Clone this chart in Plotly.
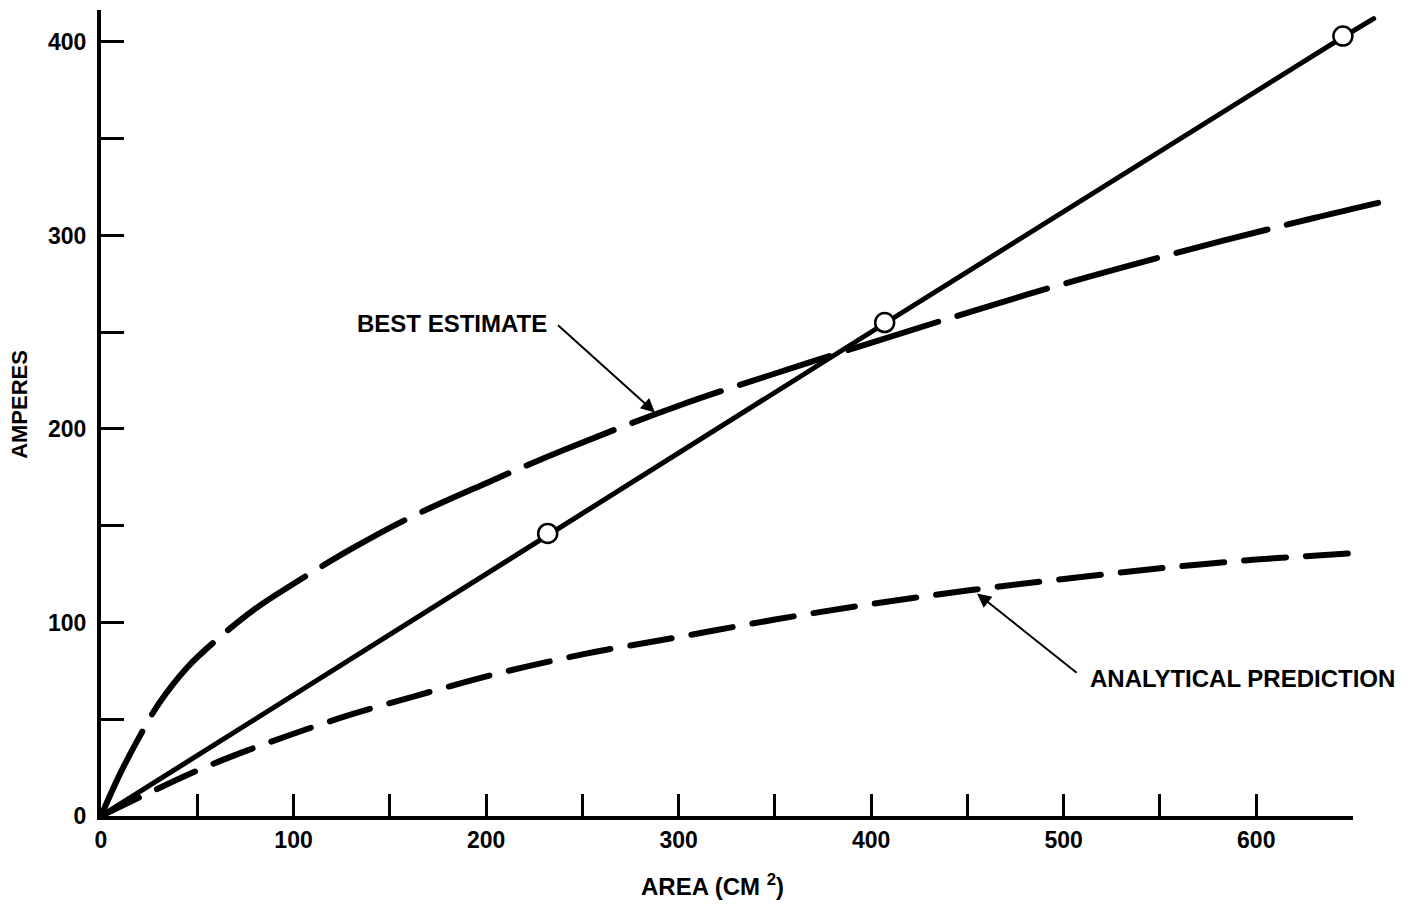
import plotly.graph_objects as go

# ---- data ----
measured_x = [232, 407, 645]
measured_y = [146, 255, 403]

fit_x = [0, 232, 407, 645, 661]
fit_y = [0, 145.5, 254.5, 402.5, 412]

best_x = [0, 10, 20, 30, 45, 60, 80, 100, 130, 160, 200, 240, 300, 370, 440, 500, 570, 630, 664]
best_y = [0, 22, 41, 58, 77, 91, 107, 120, 138, 154, 172, 189, 212, 235, 257, 275, 294, 309, 317]

anal_x = [0, 25, 50, 75, 100, 130, 165, 205, 250, 300, 350, 400, 450, 500, 550, 600, 651]
anal_y = [0, 12, 23.5, 33.5, 42.5, 52.5, 62.5, 73.4, 83.5, 92.5, 101.5, 109.5, 116.5, 122.5, 128, 132.5, 135.8]

x_ticks = list(range(0, 651, 50))
x_tick_text = [str(v) if v % 100 == 0 else "" for v in x_ticks]
y_ticks = list(range(0, 401, 50))
y_tick_text = [str(v) if v % 100 == 0 else "" for v in y_ticks]

X_MAX = 689.2
Y_MAX = 416.5
X_AXIS_END = 650

FONT = "Liberation Sans"
FS = 24

fig = go.Figure()

fig.add_trace(go.Scatter(x=best_x, y=best_y, mode="lines",
                         line=dict(color="black", width=6, dash="94px,20px", shape="spline", smoothing=1),
                         showlegend=False, hoverinfo="skip"))
fig.add_trace(go.Scatter(x=anal_x, y=anal_y, mode="lines",
                         line=dict(color="black", width=6, dash="42px,20px", shape="spline", smoothing=1),
                         showlegend=False, hoverinfo="skip"))
fig.add_trace(go.Scatter(x=fit_x, y=fit_y, mode="lines",
                         line=dict(color="black", width=5),
                         showlegend=False, hoverinfo="skip"))
fig.add_trace(go.Scatter(x=measured_x, y=measured_y, mode="markers",
                         marker=dict(symbol="circle", size=19, color="white",
                                     line=dict(color="black", width=2.5)),
                         showlegend=False, hoverinfo="skip"))
# empty trace to host the visible x axis (ends at 650)
fig.add_trace(go.Scatter(x=[], y=[], xaxis="x2", yaxis="y", showlegend=False, hoverinfo="skip"))

tick_font = dict(family=FONT, size=23, color="black", weight="bold")

fig.update_layout(
    width=1428, height=905,
    margin=dict(l=101, r=0, t=10, b=89),
    paper_bgcolor="white",
    plot_bgcolor="rgba(0,0,0,0)",
    font=dict(family=FONT, size=FS, color="black"),
    xaxis=dict(range=[0, X_MAX], visible=False, showgrid=False, zeroline=False),
    xaxis2=dict(range=[0, X_AXIS_END], domain=[0, X_AXIS_END / X_MAX], anchor="y",
                showline=True, linecolor="black", linewidth=4,
                ticks="inside", ticklen=22, tickwidth=3, tickcolor="black",
                tickmode="array", tickvals=x_ticks, ticktext=x_tick_text,
                tickfont=tick_font, showgrid=False, zeroline=False),
    yaxis=dict(range=[0, Y_MAX], showline=True, linecolor="black", linewidth=4,
               ticks="inside", ticklen=23, tickwidth=3, tickcolor="black",
               tickmode="array", tickvals=y_ticks, ticktext=y_tick_text,
               tickfont=tick_font, ticklabelstandoff=6,
               showgrid=False, zeroline=False),
)

ann_font = dict(family=FONT, size=FS, color="black", weight="bold")
fig.add_annotation(x=232.5, y=254.3, xref="x", yref="y", text="BEST ESTIMATE",
                   showarrow=False, xanchor="right", yanchor="middle", font=ann_font)
fig.add_annotation(x=287.7, y=208.5, xref="x", yref="y", ax=236.6, ay=254.3,
                   axref="x", ayref="y", text="", showarrow=True,
                   arrowhead=2, arrowsize=1.4, arrowwidth=2, arrowcolor="black")
fig.add_annotation(x=512.7, y=71.3, xref="x", yref="y", text="ANALYTICAL PREDICTION",
                   showarrow=False, xanchor="left", yanchor="middle", font=ann_font)
fig.add_annotation(x=455, y=115, xref="x", yref="y", ax=507.5, ay=73.4,
                   axref="x", ayref="y", text="", showarrow=True,
                   arrowhead=2, arrowsize=1.4, arrowwidth=2, arrowcolor="black")

fig.add_annotation(x=-0.062, y=0.511, xref="paper", yref="paper", text="AMPERES",
                   textangle=-90, showarrow=False, xanchor="center", yanchor="middle",
                   font=dict(family=FONT, size=22, color="black", weight="bold"))
fig.add_annotation(x=0.461, y=-0.0856, xref="paper", yref="paper", text="AREA (CM <sup>2</sup>)",
                   showarrow=False, xanchor="center", yanchor="middle", font=ann_font)

post = """
document.body.style.margin = '0';
var gd = document.querySelector('.plotly-graph-div');
function roundCaps(){
  document.querySelectorAll('.scatterlayer .js-line').forEach(function(e){
    e.style.strokeLinecap = 'round';
  });
}
roundCaps();
if (gd && gd.on) { gd.on('plotly_afterplot', roundCaps); }
"""

fig.write_html("out.html", post_script=post, config={"displayModeBar": False})
